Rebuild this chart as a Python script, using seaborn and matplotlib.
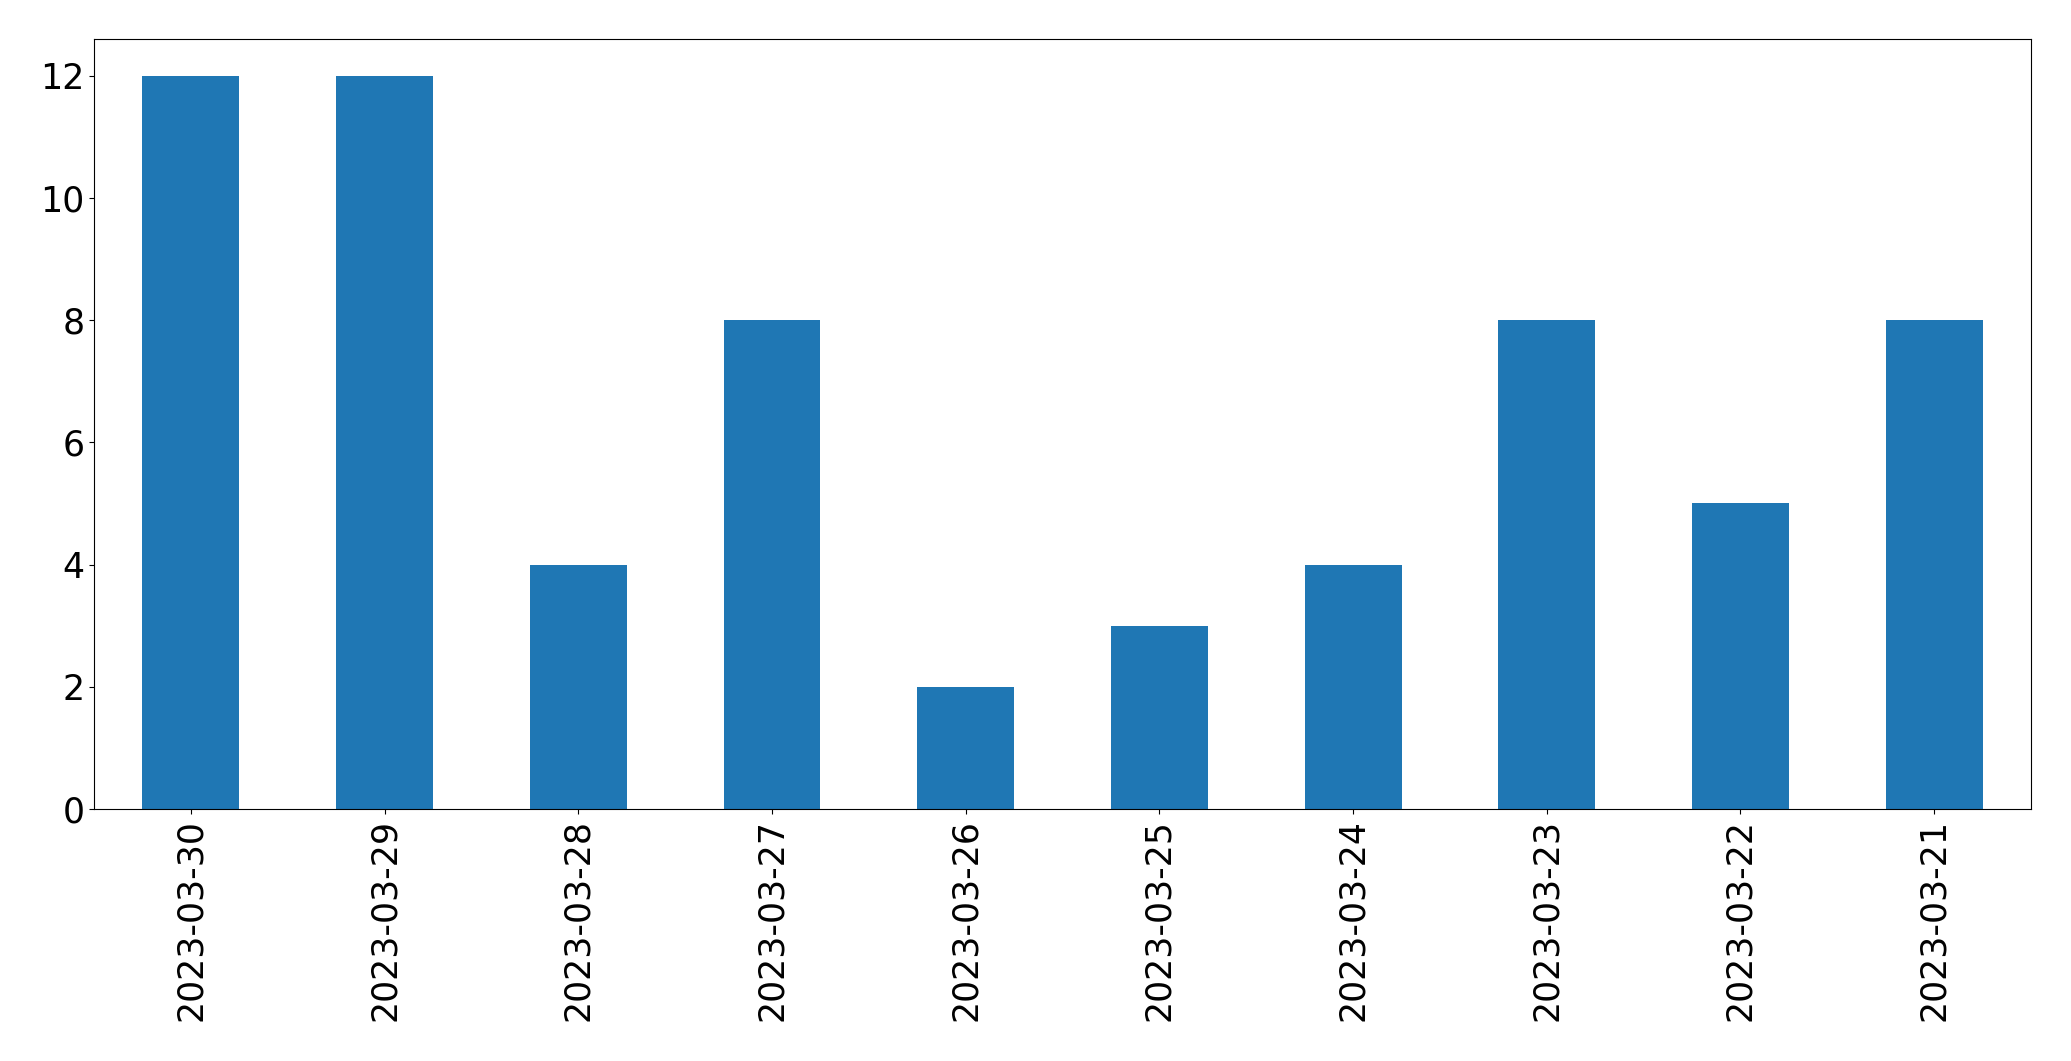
import numpy as np
import pandas as pd
import matplotlib
matplotlib.use('Agg')
import matplotlib.pyplot as plt
import seaborn as sns

# Counts per day (newest first, as in the source)
dates = ['2023-03-30', '2023-03-29', '2023-03-28', '2023-03-27', '2023-03-26',
         '2023-03-25', '2023-03-24', '2023-03-23', '2023-03-22', '2023-03-21']
counts = [12, 12, 4, 8, 2, 3, 4, 8, 5, 8]

df = pd.DataFrame({'date': dates, 'count': counts})

fig, ax = plt.subplots(figsize=(20.71, 10.61), dpi=100)
sns.barplot(data=df, x='date', y='count', order=dates, color='#1f77b4',
            saturation=1, width=0.5, linewidth=0, ax=ax)

ax.set_xlim(-0.5, len(dates) - 0.5)
ax.set_ylim(0, max(counts) * 1.05)
ax.set_xlabel('')
ax.set_ylabel('')
ax.tick_params(axis='both', labelsize=25)
plt.setp(ax.get_xticklabels(), rotation=90)

plt.subplots_adjust(left=0.0454, right=0.9807, top=0.9632, bottom=0.2375)
plt.savefig('out.png', dpi=100)
